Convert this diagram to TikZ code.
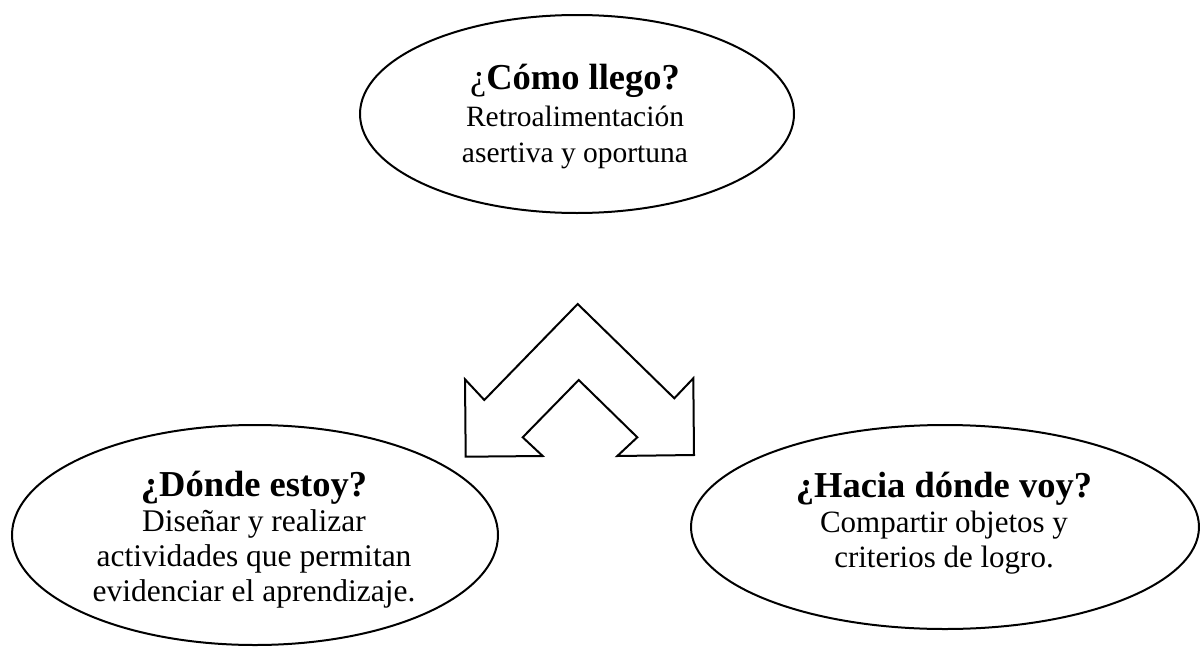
\documentclass[tikz,border=0pt]{standalone}
\usepackage{fontspec}
\setmainfont{Liberation Serif}
\usetikzlibrary{shapes.geometric}
\tikzset{
  bubble/.style={draw=black, line width=2pt, ellipse, inner sep=0pt, fill=white},
  bubbletext/.style={align=center, inner sep=0pt},
  arrowshape/.style={draw=black, line width=2pt, line join=miter, fill=white}
}
\newcommand{\qtitle}[1]{{\bfseries\fontsize{36.5}{36}\selectfont #1}}
\begin{document}
\begin{tikzpicture}[x=1pt,y=-1pt]
\useasboundingbox (0,0) rectangle (1200,648);
\node[bubble, minimum width=434pt, minimum height=198pt] (como) at (577,114) {};
\node[bubbletext, font=\fontsize{29.5}{36.5}\selectfont] (comotext) at (575,117)
  {{\fontsize{36.5}{36}\selectfont ¿}\qtitle{Cómo llego?}\\Retroalimentación\\asertiva y oportuna};
\node[bubble, minimum width=486pt, minimum height=220pt] (donde) at (255,535) {};
\node[bubbletext, font=\fontsize{31.5}{35}\selectfont] (dondetext) at (254,540)
  {\qtitle{¿Dónde estoy?}\\Diseñar y realizar\\actividades que permitan\\evidenciar el aprendizaje.};
\node[bubble, minimum width=508pt, minimum height=204pt] (hacia) at (945,527) {};
\node[bubbletext, font=\fontsize{31}{35}\selectfont] (haciatext) at (944,523)
  {\qtitle{¿Hacia dónde voy?}\\Compartir objetos y\\criterios de logro.};
\draw[arrowshape] (577.7,304) -- (674.3,398.3) -- (693.3,378.3) -- (694,455) -- (617.3,456)
  -- (637.3,437.3) -- (578.7,380) -- (522.7,437.3) -- (542.7,456) -- (465.7,456.7)
  -- (465,379.3) -- (484.3,400) -- cycle;
\end{tikzpicture}
\end{document}
